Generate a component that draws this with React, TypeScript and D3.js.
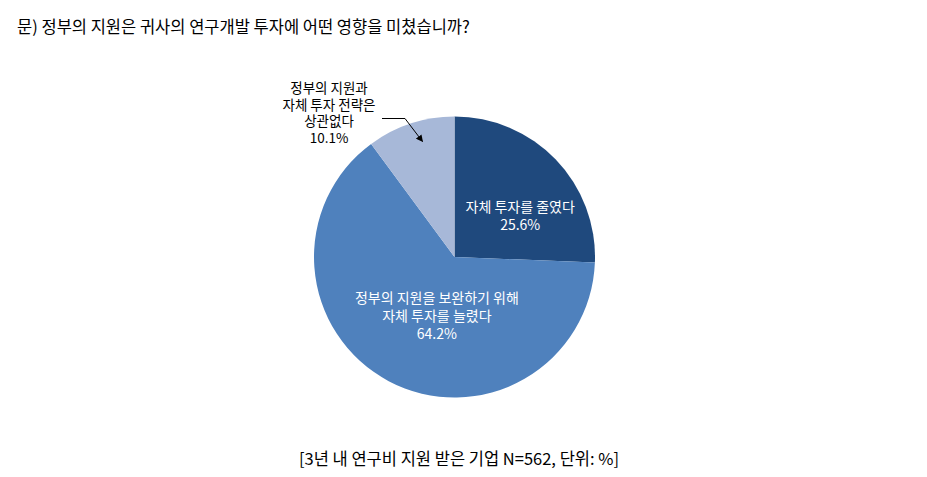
import React from "react";
import * as d3 from "d3";

const categories = ["자체 투자를 줄였다", "정부의 지원을 보완하기 위해 자체 투자를 늘렸다", "정부의 지원과 자체 투자 전략은 상관없다"];
const values = [25.6, 64.2, 10.1];
const colors = ["#1F497D", "#4F81BD", "#A7B8D8"];
const labelLines = [
  ["자체 투자를 줄였다", "25.6%"],
  ["정부의 지원을 보완하기 위해", "자체 투자를 늘렸다", "64.2%"],
  ["정부의 지원과", "자체 투자 전략은", "상관없다", "10.1%"],
];
const title = "문) 정부의 지원은 귀사의 연구개발 투자에 어떤 영향을 미쳤습니까?";
const footer = "[3년 내 연구비 지원 받은 기업 N=562, 단위: %]";

const W = 927, H = 477;
const cx = 454.5, cy = 257, R = 140.5;
const font = "'Malgun Gothic', 'Noto Sans CJK KR', sans-serif";

export default function App() {
  const data = categories.map((c, i) => ({ c, v: values[i], i }));
  const pie = d3.pie<any>().value((d) => d.v).sort(null);
  const arcs = pie(data);
  const arc = d3.arc<any>().innerRadius(0).outerRadius(R);
  const c0 = d3.arc<any>().innerRadius(R * 0.55).outerRadius(R * 0.55).centroid(arcs[0]);
  const c1 = d3.arc<any>().innerRadius(R * 0.42).outerRadius(R * 0.42).centroid(arcs[1]);
  const c2 = d3.arc<any>().innerRadius(R * 0.82).outerRadius(R * 0.82).centroid(arcs[2]);
  const lh = 18;

  return (
    <div style={{ margin: -8 }}>
      <svg width={W} height={H} style={{ display: "block", fontFamily: font }}>
        <defs>
          <marker id="ah" viewBox="0 0 10 10" refX="9" refY="5" markerWidth="7" markerHeight="7" orient="auto">
            <path d="M0,0 L10,5 L0,10 z" fill="#000" />
          </marker>
        </defs>
        <rect x={0.5} y={0.5} width={925} height={472} fill="#fff" stroke="#A6A6A6" strokeWidth={1} />
        <text x={17} y={33} fontSize={16.5} fill="#000">{title}</text>
        <g transform={`translate(${cx},${cy})`}>
          {arcs.map((a, i) => (
            <path key={i} d={arc(a) || ""} fill={colors[i]} />
          ))}
          <text textAnchor="middle" fontSize={14} fill="#fff">
            {labelLines[0].map((t, k) => (
              <tspan key={k} x={c0[0] + 10} y={c0[1] + 9 + k * lh}>{t}</tspan>
            ))}
          </text>
          <text textAnchor="middle" fontSize={14} fill="#fff">
            {labelLines[1].map((t, k) => (
              <tspan key={k} x={c1[0] + 10} y={c1[1] - 6 + k * lh}>{t}</tspan>
            ))}
          </text>
          <path
            d={`M${382 - cx},${118.5 - cy} L${405 - cx},${118.5 - cy} L${c2[0] + 4},${c2[1] - 6}`}
            fill="none"
            stroke="#000"
            strokeWidth={1}
            markerEnd="url(#ah)"
          />
        </g>
        <text textAnchor="middle" fontSize={13.5} fill="#000">
          {labelLines[2].map((t, k) => (
            <tspan key={k} x={329} y={93 + k * 16.5}>{t}</tspan>
          ))}
        </text>
        <text x={459} y={465} textAnchor="middle" fontSize={16.5} fill="#000">{footer}</text>
      </svg>
    </div>
  );
}
